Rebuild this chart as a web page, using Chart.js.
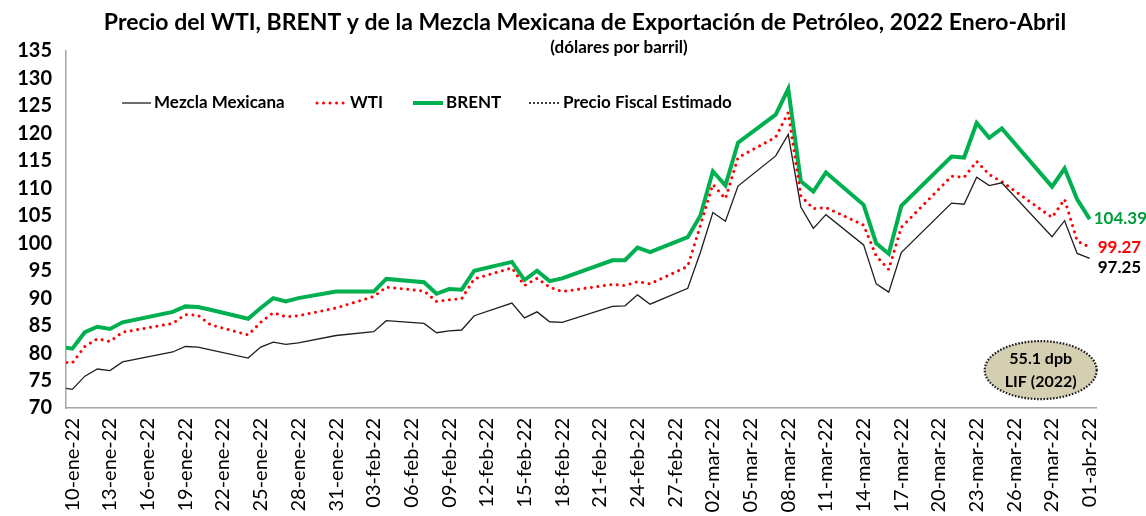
<!DOCTYPE html>
<html lang="es">
<head>
<meta charset="utf-8">
<title>Precio del WTI, BRENT y de la Mezcla Mexicana</title>
<script src="https://cdn.jsdelivr.net/npm/chart.js@4.4.1/dist/chart.umd.min.js"></script>
<style>
  html, body { margin: 0; padding: 0; background: #fff; }
  #grafica { display: block; }
</style>
</head>
<body>
<canvas id="grafica" width="1146" height="516"></canvas>
<script>
// Fechas con cotizacion (07-ene queda antes del eje: solo se ve el tramo que entra)
const fechas = [
  '07-ene-22', '10-ene-22', '11-ene-22', '12-ene-22', '13-ene-22', '14-ene-22',
  '18-ene-22', '19-ene-22', '20-ene-22', '21-ene-22',
  '24-ene-22', '25-ene-22', '26-ene-22', '27-ene-22', '28-ene-22',
  '31-ene-22', '03-feb-22', '04-feb-22',
  '07-feb-22', '08-feb-22', '09-feb-22', '10-feb-22', '11-feb-22',
  '14-feb-22', '15-feb-22', '16-feb-22', '17-feb-22', '18-feb-22',
  '22-feb-22', '23-feb-22', '24-feb-22', '25-feb-22',
  '28-feb-22', '01-mar-22', '02-mar-22', '03-mar-22', '04-mar-22',
  '07-mar-22', '08-mar-22', '09-mar-22', '10-mar-22', '11-mar-22',
  '14-mar-22', '15-mar-22', '16-mar-22', '17-mar-22',
  '21-mar-22', '22-mar-22', '23-mar-22', '24-mar-22', '25-mar-22',
  '29-mar-22', '30-mar-22', '31-mar-22', '01-abr-22'
];

const mezcla = [
  74.5, 73.4, 75.8, 77.1, 76.8, 78.4,
  80.2, 81.2, 81.1, 80.6,
  79.1, 81.1, 82.0, 81.6, 81.85,
  83.2, 83.9, 85.9,
  85.4, 83.7, 84.05, 84.2, 86.8,
  89.1, 86.4, 87.5, 85.7, 85.6,
  88.5, 88.6, 90.6, 88.9,
  91.8, 98.3, 105.6, 104.0, 110.4,
  115.9, 119.8, 106.6, 102.7, 105.2,
  99.7, 92.6, 91.1, 98.3,
  107.3, 107.1, 112.0, 110.5, 111.0,
  101.2, 104.1, 98.15, 97.25
];

const wti = [
  78.9, 78.2, 81.2, 82.6, 82.1, 83.8,
  85.4, 87.0, 86.9, 85.15,
  83.3, 85.6, 87.35, 86.6, 86.8,
  88.2, 90.3, 92.0,
  91.3, 89.4, 89.7, 89.9, 93.5,
  95.5, 92.3, 93.6, 92.0, 91.2,
  92.5, 92.3, 93.0, 92.6,
  95.8, 103.2, 110.7, 108.1, 115.6,
  119.3, 123.8, 108.6, 106.3, 106.5,
  103.3, 97.7, 95.2, 102.9,
  112.2, 112.0, 114.9, 112.5, 111.2,
  104.7, 108.0, 100.4, 99.27
];

const brent = [
  81.75, 80.8, 83.8, 84.8, 84.4, 85.6,
  87.5, 88.5, 88.4, 87.9,
  86.25, 88.2, 90.0, 89.4, 90.0,
  91.2, 91.2, 93.5,
  92.9, 90.8, 91.65, 91.55, 95.0,
  96.6, 93.3, 95.0, 93.1, 93.6,
  96.9, 96.9, 99.2, 98.4,
  101.1, 105.0, 113.1, 110.5, 118.3,
  123.4, 128.1, 111.3, 109.4, 112.9,
  107.0, 100.0, 98.1, 106.8,
  115.8, 115.6, 121.9, 119.2, 120.9,
  110.3, 113.6, 108.0, 104.39
];

// Precio fiscal estimado (LIF 2022), queda por debajo del eje
const precioFiscal = 55.1;

const etiquetasX = [
  '10-ene-22', '13-ene-22', '16-ene-22', '19-ene-22', '22-ene-22', '25-ene-22',
  '28-ene-22', '31-ene-22', '03-feb-22', '06-feb-22', '09-feb-22', '12-feb-22',
  '15-feb-22', '18-feb-22', '21-feb-22', '24-feb-22', '27-feb-22', '02-mar-22',
  '05-mar-22', '08-mar-22', '11-mar-22', '14-mar-22', '17-mar-22', '20-mar-22',
  '23-mar-22', '26-mar-22', '29-mar-22', '01-abr-22'
];

const titulo = 'Precio del WTI, BRENT y de la Mezcla Mexicana de Exportación de Petróleo, 2022 Enero-Abril';
const subtitulo = '(dólares por barril)';

// Convierte '10-ene-22' en dias contados desde el 10 de enero
const meses = { ene: 0, feb: 1, mar: 2, abr: 3 };
const inicio = Date.UTC(2022, 0, 10);
function diaDe(fecha) {
  const partes = fecha.split('-');
  return Math.round((Date.UTC(2022, meses[partes[1]], +partes[0]) - inicio) / 86400000);
}

const dias = fechas.map(diaDe);
const diasTicks = etiquetasX.map(diaDe);
const textoTick = {};
etiquetasX.forEach((e, i) => { textoTick[diasTicks[i]] = e; });

function serie(valores) {
  return valores.map((v, i) => ({ x: dias[i], y: v }));
}

// Leyenda, titulos, valores finales y el ovalo del precio fiscal
const rotulos = {
  id: 'rotulos',
  afterDraw(chart) {
    const ctx = chart.ctx;
    const sets = chart.data.datasets;
    ctx.save();

    ctx.fillStyle = '#000';
    ctx.textAlign = 'center';
    ctx.textBaseline = 'middle';
    ctx.font = 'bold 23px Lato';
    ctx.fillText(titulo, 585, 23);
    ctx.font = 'bold 17px Lato';
    ctx.fillText(subtitulo, 619, 48);

    // leyenda dentro del area
    const items = [
      { ds: 0, x0: 122, x1: 151 },
      { ds: 1, x0: 317, x1: 347 },
      { ds: 2, x0: 413, x1: 443 },
      { ds: 3, x0: 530, x1: 560 }
    ];
    const yLey = 103;
    ctx.textAlign = 'left';
    ctx.font = 'bold 17px Lato';
    items.forEach(it => {
      const d = sets[it.ds];
      ctx.save();
      ctx.strokeStyle = d.borderColor;
      ctx.lineWidth = d.borderWidth;
      ctx.lineCap = d.borderCapStyle || 'butt';
      ctx.setLineDash(d.borderDash || []);
      ctx.beginPath();
      ctx.moveTo(it.x0, yLey);
      ctx.lineTo(it.x1, yLey);
      ctx.stroke();
      ctx.restore();
      ctx.fillStyle = '#000';
      ctx.fillText(d.label, it.x1 + 3, yLey);
    });

    // valores del ultimo dia
    const finales = [
      { ds: 2, dx: 4, dy: -1, color: '#009E3A' },
      { ds: 1, dx: 8, dy: 0, color: '#FF0000' },
      { ds: 0, dx: 8, dy: 9, color: '#000' }
    ];
    ctx.font = 'bold 17px Lato';
    finales.forEach(f => {
      const pts = chart.getDatasetMeta(f.ds).data;
      const p = pts[pts.length - 1];
      const v = sets[f.ds].data[sets[f.ds].data.length - 1].y;
      ctx.fillStyle = f.color;
      ctx.fillText(v.toFixed(2), p.x + f.dx, p.y + f.dy);
    });

    // ovalo con el precio fiscal
    const cx = chart.scales.x.getPixelForValue(77.1);
    const cy = chart.scales.y.getPixelForValue(76.9);
    ctx.beginPath();
    ctx.ellipse(cx, cy, 56, 29, 0, 0, Math.PI * 2);
    ctx.fillStyle = '#D5CFB2';
    ctx.fill();
    ctx.setLineDash([1.6, 1.6]);
    ctx.lineWidth = 2.2;
    ctx.strokeStyle = '#1A1A1A';
    ctx.stroke();
    ctx.setLineDash([]);
    ctx.fillStyle = '#000';
    ctx.textAlign = 'center';
    ctx.font = 'bold 16px Lato';
    ctx.fillText(precioFiscal + ' dpb', cx, cy - 11);
    ctx.fillText('LIF (2022)', cx, cy + 12);

    ctx.restore();
  }
};

const ctx = document.getElementById('grafica').getContext('2d');
const grafica = new Chart(ctx, {
  type: 'line',
  data: {
    datasets: [
      {
        label: 'Mezcla Mexicana',
        data: serie(mezcla),
        borderColor: '#1F1F1F',
        borderWidth: 1.3,
        pointRadius: 0,
        tension: 0
      },
      {
        label: 'WTI',
        data: serie(wti),
        borderColor: '#FF0000',
        borderWidth: 3,
        borderDash: [0.01, 6.5],
        borderCapStyle: 'round',
        pointRadius: 0,
        tension: 0
      },
      {
        label: 'BRENT',
        data: serie(brent),
        borderColor: '#00B050',
        borderWidth: 4,
        pointRadius: 0,
        tension: 0
      },
      {
        label: 'Precio Fiscal Estimado',
        data: dias.map(d => ({ x: d, y: precioFiscal })),
        borderColor: '#000',
        borderWidth: 2,
        borderDash: [0.01, 4],
        borderCapStyle: 'round',
        pointRadius: 0,
        tension: 0
      }
    ]
  },
  options: {
    responsive: false,
    devicePixelRatio: 1,
    animation: false,
    layout: {
      padding: { top: 51, right: 50, left: 0, bottom: 0 }
    },
    plugins: {
      legend: { display: false },
      title: { display: false },
      tooltip: { enabled: false }
    },
    scales: {
      x: {
        type: 'linear',
        min: -0.5,
        max: 81.5,
        grid: { display: false, drawTicks: false },
        border: { color: '#A6A6A6', width: 1.5 },
        afterBuildTicks: scale => {
          scale.ticks = diasTicks.map(v => ({ value: v }));
        },
        afterFit: scale => {
          scale.height = 108;
        },
        ticks: {
          autoSkip: false,
          maxRotation: 90,
          minRotation: 90,
          padding: 10,
          color: '#000',
          font: { family: 'Lato', size: 20 },
          callback: value => textoTick[value]
        }
      },
      y: {
        min: 70,
        max: 135,
        grid: { display: false, drawTicks: false },
        border: { color: '#A6A6A6', width: 1.5 },
        afterFit: scale => {
          scale.width = 66;
        },
        ticks: {
          stepSize: 5,
          padding: 14,
          color: '#000',
          font: { family: 'Lato', size: 20, weight: 'bold' }
        }
      }
    }
  },
  plugins: [rotulos]
});
</script>
</body>
</html>
